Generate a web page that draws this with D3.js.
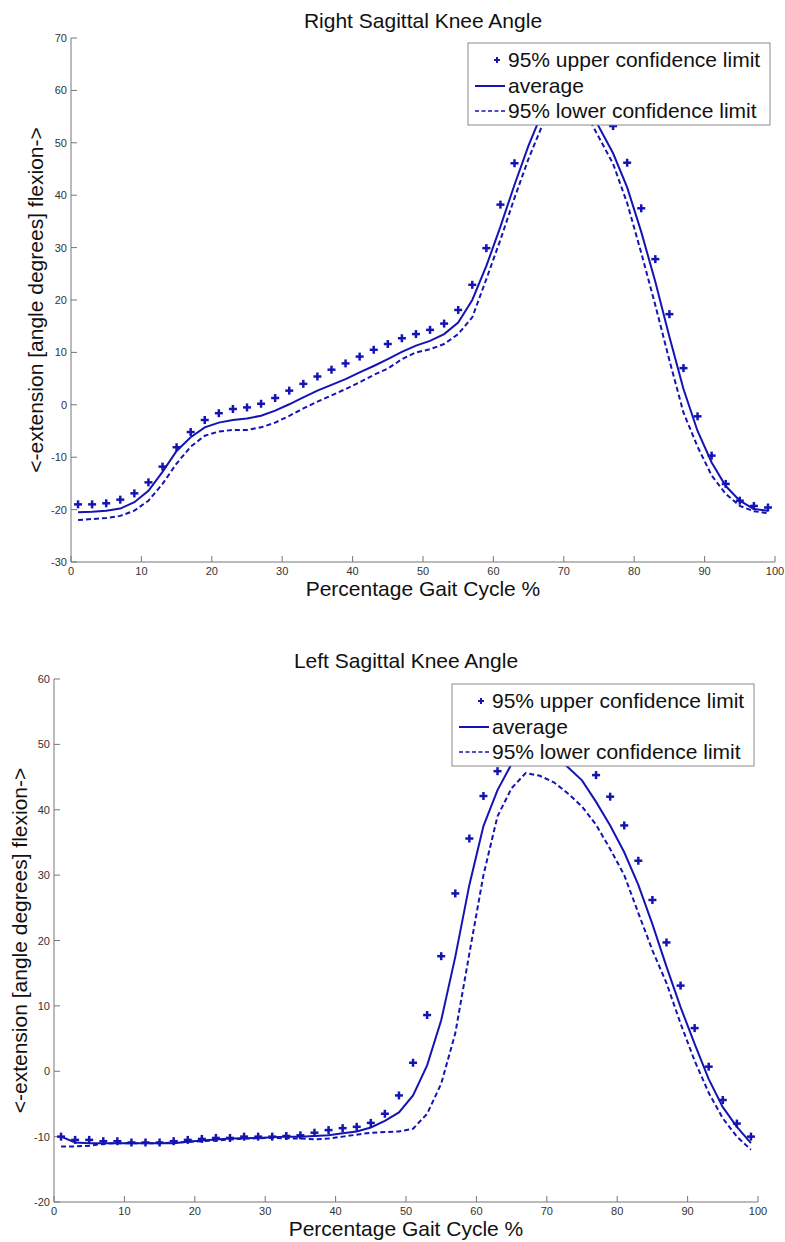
<!DOCTYPE html>
<html>

<head>
    <meta charset="utf-8">
    <script src="https://d3js.org/d3.v7.min.js"></script>
    <style>
        body {
            margin: 0;
            background-color: #ffffff;
        }

        #knee-svg .font {
            font-family: "Liberation Sans", Arial, sans-serif;
        }

        #knee-svg .title {
            font-size: 21px;
            fill: #111111;
        }

        #knee-svg .axis-label {
            font-size: 21px;
            fill: #111111;
        }

        #knee-svg .tick-label {
            font-size: 11px;
            fill: #333333;
        }

        #knee-svg .axis-line {
            stroke: #777777;
            stroke-width: 1;
            fill: none;
        }

        #knee-svg .avg-line {
            fill: none;
            stroke: #1414b4;
            stroke-width: 2;
        }

        #knee-svg .lower-line {
            fill: none;
            stroke: #1414b4;
            stroke-width: 2;
            stroke-dasharray: 5, 3;
        }

        #knee-svg .plus {
            stroke: #1414b4;
            stroke-width: 2.5;
        }

        #knee-svg .legend-box {
            fill: #ffffff;
            stroke: #8a8a8a;
            stroke-width: 1;
        }

        #knee-svg .legend-text {
            font-size: 21px;
            fill: #111111;
        }
    </style>
</head>

<body>

    <script>

        const SVG_WIDTH = 785;
        const SVG_HEIGHT = 1242;

        // gait cycle percent, sampled every 2 %
        const GAIT_PCT = [1, 3, 5, 7, 9, 11, 13, 15, 17, 19, 21, 23, 25, 27, 29, 31, 33, 35, 37, 39,
            41, 43, 45, 47, 49, 51, 53, 55, 57, 59, 61, 63, 65, 67, 69, 71, 73, 75, 77, 79,
            81, 83, 85, 87, 89, 91, 93, 95, 97, 99];

        const RIGHT_UPPER = [-19.0, -19.0, -18.8, -18.1, -16.9, -14.8, -11.8, -8.1, -5.2, -2.9,
            -1.6, -0.8, -0.5, 0.2, 1.3, 2.7, 4.0, 5.4, 6.7, 7.9,
            9.2, 10.5, 11.6, 12.7, 13.5, 14.3, 15.5, 18.1, 22.9, 29.9,
            38.2, 46.1, 54.5, 60.5, 64.0, 64.5, 62.0, 58.0, 53.2, 46.2,
            37.5, 27.8, 17.3, 7.0, -2.2, -9.7, -15.1, -18.3, -19.3, -19.6];
        const RIGHT_AVG = [-20.5, -20.4, -20.2, -19.8, -18.6, -16.4, -12.8, -8.8, -6.2, -4.3,
            -3.4, -2.9, -2.6, -2.1, -1.1, 0.1, 1.4, 2.7, 3.8, 4.9,
            6.2, 7.4, 8.7, 10.1, 11.3, 12.2, 13.5, 15.7, 20.0, 26.5,
            34.0, 42.0, 49.5, 56.0, 60.5, 61.5, 58.5, 53.0, 48.0, 41.5,
            33.0, 23.5, 13.0, 3.0, -5.0, -11.0, -15.5, -18.3, -19.9, -20.2];
        const RIGHT_LOWER = [-22.0, -21.8, -21.6, -21.2, -20.2, -18.3, -15.1, -11.2, -8.0, -5.9,
            -5.1, -4.8, -4.8, -4.3, -3.4, -2.1, -0.7, 0.6, 1.8, 3.0,
            4.3, 5.7, 6.9, 8.7, 10.0, 10.6, 11.6, 13.5, 16.7, 24.0,
            31.5, 39.5, 47.0, 53.5, 57.5, 58.5, 56.0, 51.0, 46.0, 38.5,
            29.0, 19.0, 8.5, -1.5, -8.0, -13.5, -17.0, -19.3, -20.3, -20.7];

        const LEFT_UPPER = [-10.0, -10.5, -10.5, -10.7, -10.7, -10.9, -10.9, -10.9, -10.7, -10.5,
            -10.35, -10.2, -10.2, -10.0, -10.0, -10.0, -9.9, -9.8, -9.4, -9.0,
            -8.7, -8.5, -7.9, -6.5, -3.7, 1.3, 8.6, 17.6, 27.2, 35.6,
            42.1, 45.9, 49.0, 51.0, 51.5, 51.0, 49.5, 47.5, 45.3, 42.0,
            37.6, 32.2, 26.2, 19.7, 13.1, 6.6, 0.7, -4.4, -8.0, -10.0];
        const LEFT_AVG = [-10.0, -10.9, -11.0, -11.0, -11.0, -11.0, -11.0, -11.0, -11.0, -10.8,
            -10.6, -10.45, -10.3, -10.25, -10.2, -10.1, -10.0, -10.0, -9.9, -9.8,
            -9.5, -9.2, -8.6, -7.6, -6.3, -3.7, 0.9, 7.8, 17.5, 28.5,
            37.5, 43.0, 47.0, 49.0, 49.5, 48.5, 46.5, 44.5, 41.2, 37.6,
            33.5, 28.5, 22.5, 16.0, 9.8, 4.2, -1.2, -5.5, -8.5, -11.0];
        const LEFT_LOWER = [-11.5, -11.5, -11.4, -11.1, -11.0, -11.0, -11.0, -11.0, -10.9, -10.8,
            -10.7, -10.6, -10.45, -10.3, -10.25, -10.2, -10.25, -10.3, -10.4, -10.3,
            -10.0, -9.7, -9.4, -9.3, -9.2, -8.8, -6.5, -1.9, 5.8, 18.0,
            30.0, 39.0, 43.3, 45.6, 45.2, 44.2, 42.5, 40.5, 37.7, 34.0,
            30.0, 24.2, 18.5, 13.5, 7.3, 1.6, -3.3, -7.2, -10.0, -12.0];

        const X_TICKS = [0, 10, 20, 30, 40, 50, 60, 70, 80, 90, 100];
        const RIGHT_Y_TICKS = [-30, -20, -10, 0, 10, 20, 30, 40, 50, 60, 70];
        const LEFT_Y_TICKS = [-20, -10, 0, 10, 20, 30, 40, 50, 60];

        const LEGEND_LABELS = ["95% upper confidence limit", "average", "95% lower confidence limit"];
        const X_LABEL_TXT = "Percentage Gait Cycle %";
        const Y_LABEL_TXT = "<-extension [angle degrees] flexion->";

        const TICK_LEN = 6;
        const PLUS_HALF = 4;

        var svg = d3.select("body").append("svg")
            .attr("width", SVG_WIDTH)
            .attr("height", SVG_HEIGHT)
            .attr("id", "knee-svg");

        function drawPanel(cfg) {
            var g = svg.append("g");

            var xScale = d3.scaleLinear()
                .domain([0, 100])
                .range([cfg.left, cfg.right]);
            var yScale = d3.scaleLinear()
                .domain([cfg.yTicks[0], cfg.yTicks[cfg.yTicks.length - 1]])
                .range([cfg.bottom, cfg.top]);

            // axes, MATLAB style with inward ticks, no box
            g.append("line").classed("axis-line", true)
                .attr("x1", cfg.left).attr("x2", cfg.left)
                .attr("y1", cfg.top).attr("y2", cfg.bottom);
            g.append("line").classed("axis-line", true)
                .attr("x1", cfg.left).attr("x2", cfg.right)
                .attr("y1", cfg.bottom).attr("y2", cfg.bottom);

            g.selectAll("xTick")
                .data(X_TICKS)
                .enter()
                .append("line")
                .classed("axis-line", true)
                .attr("x1", function(d) { return xScale(d); })
                .attr("x2", function(d) { return xScale(d); })
                .attr("y1", cfg.bottom)
                .attr("y2", cfg.bottom - TICK_LEN);
            g.selectAll("xTickLabel")
                .data(X_TICKS)
                .enter()
                .append("text")
                .classed("font tick-label", true)
                .attr("text-anchor", "middle")
                .attr("x", function(d) { return xScale(d); })
                .attr("y", cfg.bottom + 13)
                .text(function(d) { return d; });

            g.selectAll("yTick")
                .data(cfg.yTicks)
                .enter()
                .append("line")
                .classed("axis-line", true)
                .attr("x1", cfg.left)
                .attr("x2", cfg.left + TICK_LEN)
                .attr("y1", function(d) { return yScale(d); })
                .attr("y2", function(d) { return yScale(d); });
            g.selectAll("yTickLabel")
                .data(cfg.yTicks)
                .enter()
                .append("text")
                .classed("font tick-label", true)
                .attr("text-anchor", "end")
                .attr("x", cfg.left - 4)
                .attr("y", function(d) { return yScale(d) + 4; })
                .text(function(d) { return d; });

            // titles
            g.append("text")
                .classed("font title", true)
                .attr("text-anchor", "middle")
                .attr("x", (cfg.left + cfg.right) / 2)
                .attr("y", cfg.titleY)
                .text(cfg.title);
            g.append("text")
                .classed("font axis-label", true)
                .attr("text-anchor", "middle")
                .attr("x", (cfg.left + cfg.right) / 2)
                .attr("y", cfg.bottom + 34)
                .text(X_LABEL_TXT);
            g.append("text")
                .classed("font axis-label", true)
                .attr("text-anchor", "middle")
                .attr("transform", "translate(" + cfg.yLabelX + "," + (cfg.top + cfg.bottom) / 2 + ") rotate(-90)")
                .text(Y_LABEL_TXT);

            // data
            var line = d3.line()
                .x(function(d, i) { return xScale(GAIT_PCT[i]); })
                .y(function(d) { return yScale(d); });

            g.append("path")
                .classed("avg-line", true)
                .attr("d", line(cfg.avg));
            g.append("path")
                .classed("lower-line", true)
                .attr("d", line(cfg.lower));

            var plus = g.append("g").classed("plus", true);
            for (var i = 0; i < GAIT_PCT.length; i++) {
                var px = xScale(GAIT_PCT[i]);
                var py = yScale(cfg.upper[i]);
                plus.append("line")
                    .attr("x1", px - PLUS_HALF).attr("x2", px + PLUS_HALF)
                    .attr("y1", py).attr("y2", py);
                plus.append("line")
                    .attr("x1", px).attr("x2", px)
                    .attr("y1", py - PLUS_HALF).attr("y2", py + PLUS_HALF);
            }

            // legend
            var lg = g.append("g");
            lg.append("rect")
                .classed("legend-box", true)
                .attr("x", cfg.legendX)
                .attr("y", cfg.legendY)
                .attr("width", 302)
                .attr("height", 82);
            var rowY = [cfg.legendY + 17, cfg.legendY + 43, cfg.legendY + 68];
            var markX = cfg.legendX + 7;
            var textX = cfg.legendX + 40;
            lg.append("line").classed("plus", true)
                .attr("x1", markX + 19).attr("x2", markX + 25)
                .attr("y1", rowY[0]).attr("y2", rowY[0])
                .style("stroke-width", 2);
            lg.append("line").classed("plus", true)
                .attr("x1", markX + 22).attr("x2", markX + 22)
                .attr("y1", rowY[0] - 3).attr("y2", rowY[0] + 3)
                .style("stroke-width", 2);
            lg.append("line").classed("avg-line", true)
                .attr("x1", markX).attr("x2", markX + 30)
                .attr("y1", rowY[1]).attr("y2", rowY[1]);
            lg.append("line").classed("lower-line", true)
                .attr("x1", markX).attr("x2", markX + 30)
                .attr("y1", rowY[2]).attr("y2", rowY[2])
                .style("stroke-width", 1.5)
                .style("stroke-dasharray", "4,2.5");
            lg.selectAll("legendText")
                .data(LEGEND_LABELS)
                .enter()
                .append("text")
                .classed("font legend-text", true)
                .attr("x", textX)
                .attr("y", function(d, i) { return rowY[i] + 7; })
                .text(function(d) { return d; });
        }

        drawPanel({
            title: "Right Sagittal Knee Angle",
            left: 71, right: 775, top: 38, bottom: 562,
            titleY: 28, yLabelX: 43,
            legendX: 468, legendY: 43,
            yTicks: RIGHT_Y_TICKS,
            upper: RIGHT_UPPER, avg: RIGHT_AVG, lower: RIGHT_LOWER
        });

        drawPanel({
            title: "Left Sagittal Knee Angle",
            left: 54, right: 758, top: 679, bottom: 1202,
            titleY: 668, yLabelX: 27,
            legendX: 452, legendY: 684,
            yTicks: LEFT_Y_TICKS,
            upper: LEFT_UPPER, avg: LEFT_AVG, lower: LEFT_LOWER
        });

    </script>
</body>

</html>
